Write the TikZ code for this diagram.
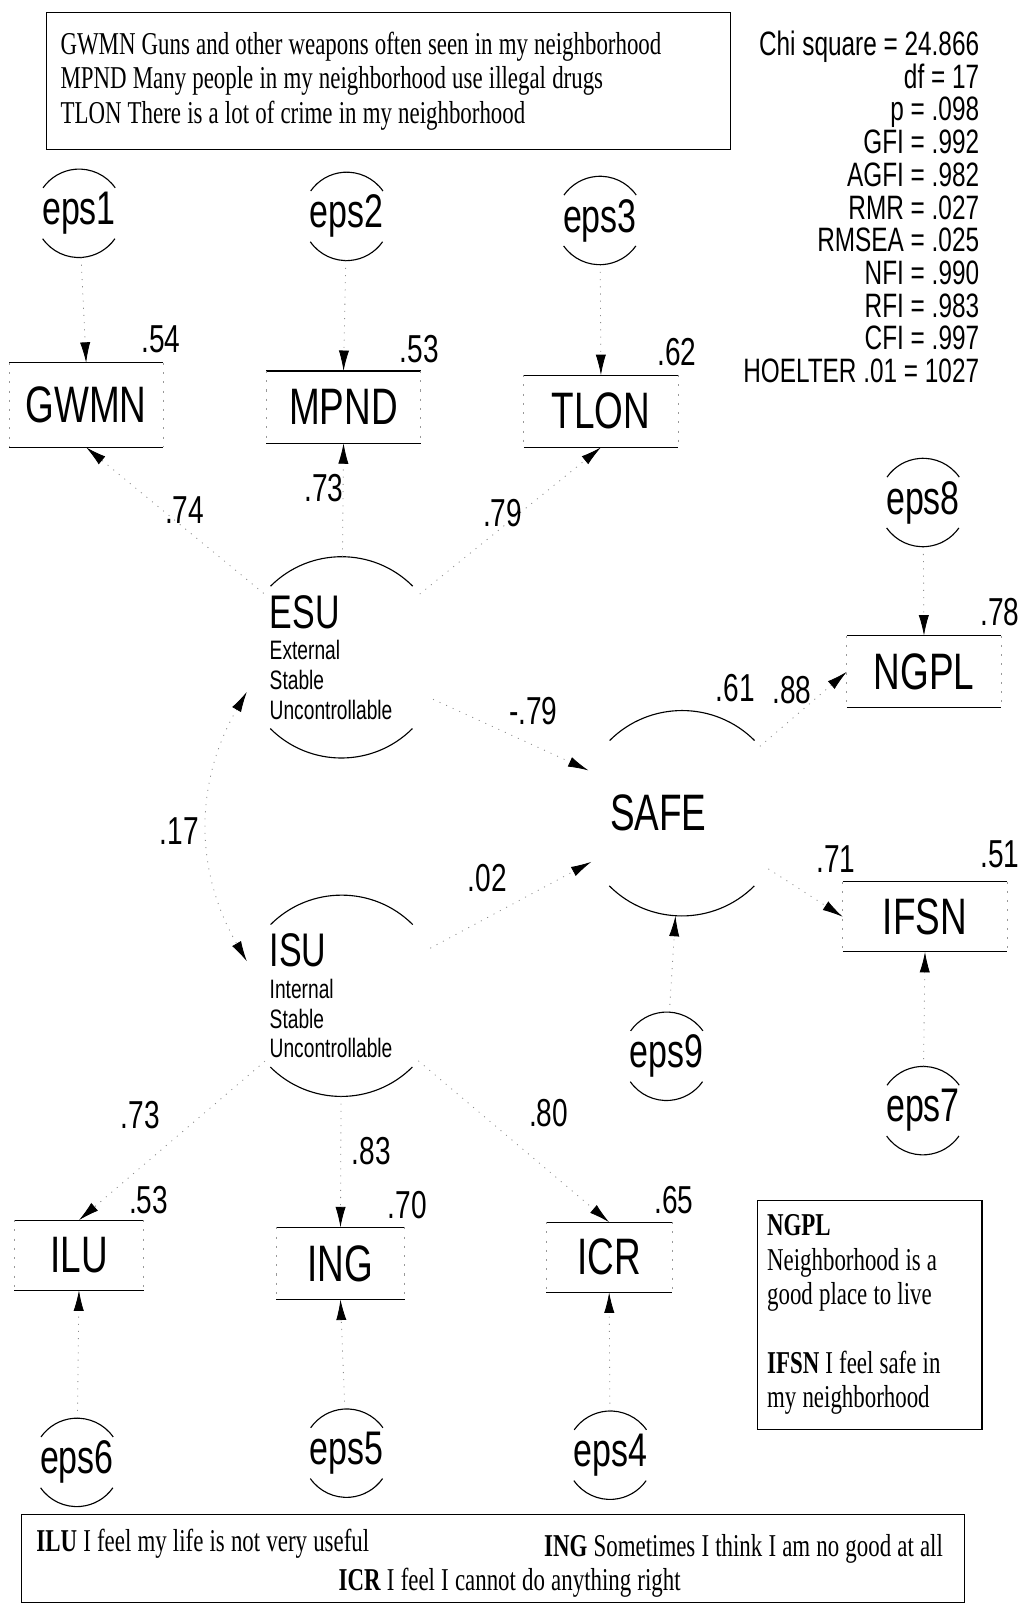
\documentclass[tikz,border=0pt]{standalone}
\usepackage{fontspec}
\newfontfamily\nsans[FakeStretch=0.72]{Liberation Sans}
\newfontfamily\nserif[FakeStretch=0.72]{Liberation Serif}
\newcommand\wsp{\spaceskip=6pt plus 1pt minus 1pt\relax}
\usetikzlibrary{arrows.meta}

\begin{document}
\begin{tikzpicture}[x=1pt,y=-1pt,
    >={Latex[length=20pt,width=10pt,color=black]},
    err/.style={circle,minimum size=86pt,inner sep=0pt,font=\nsans\fontsize{46}{46}\selectfont},
    lat/.style={circle,minimum size=196pt,inner sep=0pt,text width=140pt,align=left,font=\nsans\fontsize{26}{29}\selectfont},
    obs/.style={rectangle,minimum width=150pt,minimum height=70pt,inner sep=0pt,font=\nsans\fontsize{50}{50}\selectfont},
    num/.style={inner sep=0pt,font=\nsans\fontsize{38}{38}\selectfont},
    fl/.style={draw=black!45,line width=0.8pt,dash pattern=on 1pt off 6pt,->},
    cov/.style={fl,<->},
    rim/.style={line width=1.1pt},
    side/.style={draw=black!40,line width=0.8pt,dash pattern=on 2pt off 7pt},
    legend/.style={draw,line width=1.1pt,inner sep=0pt,align=left,font=\nserif\fontsize{31}{33.5}\selectfont}]
  \useasboundingbox (0,0) rectangle (997,1568);

  \node[legend,anchor=north west,minimum width=667pt,minimum height=133pt,text width=640pt] (defs) at (45,12)
    {\wsp GWMN Guns and other weapons often seen in my neighborhood\\
     MPND Many people in my neighborhood use illegal drugs\\
     TLON There is a lot of crime in my neighborhood};
  \node[anchor=north east,align=right,inner sep=0pt,font=\nsans\fontsize{33}{31.9}\selectfont] (fit) at (955,30)
    {Chi square = 24.866\\ df = 17\\ p = .098\\ GFI = .992\\ AGFI = .982\\ RMR = .027\\
     RMSEA = .025\\ NFI = .990\\ RFI = .983\\ CFI = .997\\ HOELTER .01 = 1027};

  % error terms
  \node[err] (e1) at (77,208) {eps1};
  \node[err] (e2) at (338,211) {eps2};
  \node[err] (e3) at (585,215) {eps3};
  \node[err] (e8) at (900,490) {eps8};
  \node[err] (e9) at (650,1030) {eps9};
  \node[err] (e7) at (900,1083) {eps7};
  \node[err] (e6) at (75,1426) {eps6};
  \node[err] (e5) at (338,1417) {eps5};
  \node[err] (e4) at (595,1419) {eps4};

  % indicators
  \node[obs,minimum height=82pt] (gwmn) at (84,395) {GWMN};
  \node[obs] (mpnd) at (335,397) {MPND};
  \node[obs] (tlon) at (586,401) {TLON};
  \node[obs] (ngpl) at (901,655) {NGPL};
  \node[obs,minimum width=160pt,minimum height=68pt] (ifsn) at (902,894) {IFSN};
  \node[obs,minimum width=126pt,minimum height=68pt] (ilu) at (77,1224) {ILU};
  \node[obs,minimum width=125pt] (ing) at (332,1232) {ING};
  \node[obs,minimum width=122pt,minimum height=68pt] (icr) at (594,1226) {ICR};

  % latents
  \node[lat] (esu) at (333,641) {{\fontsize{46}{40}\selectfont ESU}\\[2pt] External\\ Stable\\ Uncontrollable};
  \node[lat] (isu) at (333,971) {{\fontsize{46}{40}\selectfont ISU}\\[2pt] Internal\\ Stable\\ Uncontrollable};
  \node[lat,minimum size=200pt,font=\nsans\fontsize{50}{50}\selectfont] (safe) at (665,793) {SAFE};

  \foreach \i in {1,...,9} {
    \draw[rim] (e\i.35) arc[start angle=35,end angle=145,radius=43pt];
    \draw[rim] (e\i.215) arc[start angle=215,end angle=325,radius=43pt];
  }
  \foreach \n/\r in {esu/98pt,isu/98pt,safe/100pt} {
    \draw[rim] (\n.45) arc[start angle=45,end angle=135,radius=\r];
    \draw[rim] (\n.225) arc[start angle=225,end angle=315,radius=\r];
  }
  \foreach \n in {gwmn,mpnd,tlon,ngpl,ifsn,ilu,ing,icr} {
    \draw[rim] (\n.north west) -- (\n.north east);
    \draw[rim] (\n.south west) -- (\n.south east);
    \draw[side] (\n.north west) -- (\n.south west) (\n.north east) -- (\n.south east);
  }

  \foreach \a/\b in {e1/gwmn.north,e2/mpnd.north,e3/tlon.north,esu/gwmn.south,esu/mpnd.south,
      esu/tlon.south,e8/ngpl.north,e7/ifsn.south,e9/safe,esu/safe,isu/safe,safe/ngpl.west,
      safe/ifsn.west,isu/ilu.north,isu/ing.north,isu/icr.north,e6/ilu.south,e5/ing.south,e4/icr.south}
    \draw[fl] (\a) -- (\b);
  \draw[cov] (esu.200) to[out=240,in=120] (isu.160);

  \foreach \t/\x/\y [count=\k] in {.54/157/331,.53/409/340,.62/660/343,.74/180/497,.73/316/476,
      .79/490/500,.78/975/597,.61/717/671,.88/772/673,-.79/520/693,.17/175/810,.02/475/856,
      .71/815/838,.51/975/833,.73/137/1087,.83/362/1122,.80/535/1085,.53/145/1170,
      .70/397/1175,.65/657/1170}
    \node[num] (w\k) at (\x,\y) {\t};

  \node[legend,anchor=north west,minimum width=219pt,minimum height=223pt,text width=200pt] (keyr) at (738,1170)
    {\wsp\textbf{NGPL}\\ Neighborhood is a\\ good place to live\\[33.5pt] \textbf{IFSN} I feel safe in\\ my neighborhood};
  \node[legend,anchor=north west,minimum width=920pt,minimum height=86pt] (keyb) at (20,1476) {};
  \node[legend,draw=none,anchor=west] (kilu) at (35,1505) {\wsp\textbf{ILU} I feel my life is not very useful};
  \node[legend,draw=none,anchor=east] (king) at (920,1510) {\wsp\textbf{ING} Sometimes I think I am no good at all};
  \node[legend,draw=none] (kicr) at (497,1543) {\wsp\textbf{ICR} I feel I cannot do anything right};
\end{tikzpicture}
\end{document}
